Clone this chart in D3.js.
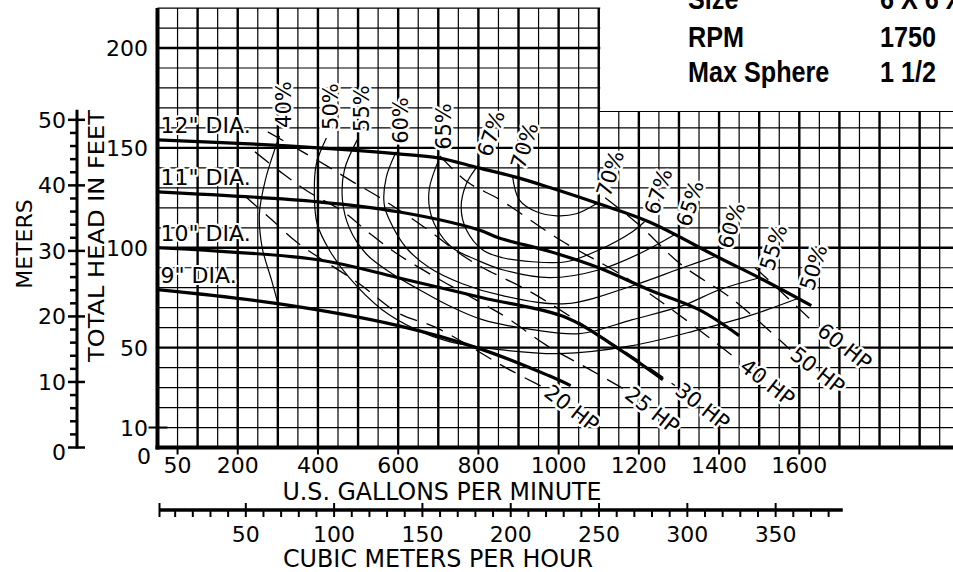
<!DOCTYPE html>
<html>
<head>
<meta charset="utf-8">
<script src="https://cdn.jsdelivr.net/npm/d3@7"></script>
<style>
  body { margin: 0; background: #fff; }
  svg { display: block; }
  text { font-family: "DejaVu Sans", sans-serif; fill: #000; }
  text.info { font-family: "Liberation Sans", Arial, sans-serif; font-weight: bold; font-size: 30px; }
</style>
</head>
<body>
<div id="chart"></div>
<script>
// ---- data (US gpm, feet of head) ----
const gpmTicks = [50, 200, 400, 600, 800, 1000, 1200, 1400, 1600];
const headTicks = [0, 10, 50, 100, 150, 200];
const meterTicks = [0, 10, 20, 30, 40, 50];
const m3Ticks = [50, 100, 150, 200, 250, 300, 350];

const dia12 = [[0,154],[230,152],[400,150],[600,147],[700,145],[800,140],[900,135],[980,130],[1100,122],[1225,113],[1400,95],[1500,85],[1630,71]];
const dia11 = [[0,128],[400,123],[600,118],[800,109],[850,105],[980,98],[1100,90],[1225,79],[1350,69],[1450,56]];
const dia10 = [[0,100],[400,94],[600,85],[810,75],[1020,65],[1145,50],[1260,34]];
const dia9  = [[0,79],[300,72],[600,61],[810,49],[975,36],[1030,31]];
const diaNames = ['12" DIA.', '11" DIA.', '10" DIA.', '9" DIA.'];

const eff40 = [[304,156],[269,134],[254,117],[261,100],[284,84],[299,73]];
const eff50 = [[421,155],[396,142],[391,127],[398,112],[428,99],[478,85],[560,69],[645,59],[727,53],[852,49],[1002,47],[1184,51],[1351,59],[1476,66],[1601,75]];
const eff55 = [[498,154],[466,139],[461,124],[478,110],[520,97],[585,87],[653,79],[727,71],[810,64],[935,59],[1052,57],[1184,64],[1309,71],[1401,79],[1501,85]];
const eff60 = [[595,148],[570,135],[565,122],[578,114],[620,100],[678,90],[760,82],[860,76],[1019,72],[1184,81],[1309,90],[1396,96]];
const eff65 = [[703,145],[678,130],[678,120],[695,110],[735,100],[795,94],[860,89],[977,85],[1102,89],[1201,97],[1293,107]];
const eff67 = [[802,142],[770,132],[757,120],[770,109],[810,99],[860,95],[934,93],[1019,93],[1102,99],[1184,108],[1214,113]];
const eff70 = [[885,136],[902,124],[945,118],[995,116],[1044,117],[1094,122]];
const effNames = ['40%', '50%', '55%', '60%', '65%', '67%', '70%'];

const hp20 = [[217,126],[285,114],[346,103],[411,94],[503,82],[603,67],[695,60],[877,39],[964,30]];
const hp25 = [[243,148],[313,137],[376,128],[463,118],[530,107],[597,97],[704,84],[811,72],[871,65],[971,51],[1078,39],[1165,29]];
const hp30 = [[275,158],[362,148],[422,141],[487,133],[555,125],[667,110],[754,97],[811,90],[911,80],[971,73],[1103,56],[1203,43],[1290,31]];
const hp40 = [[704,146],[772,133],[854,124],[1003,104],[1160,86],[1303,66],[1452,43]];
const hp50 = [[1116,125],[1203,111],[1303,92],[1435,74],[1577,49]];
const hp60 = [[1490,90],[1560,77],[1644,61]];
const hpNames = ['20 HP', '25 HP', '30 HP', '40 HP', '50 HP', '60 HP'];

const infoLabels = ['Size', 'RPM', 'Max Sphere'];
const infoValues = ['6 X 6 X 12', '1750', '1 1/2'];

// ---- layout ----
const W = 953, H = 572;
const svg = d3.select('#chart').append('svg').attr('width', W).attr('height', H);

const x = d3.scaleLinear().domain([0, 1600]).range([157.5, 799.3]);
const y = d3.scaleLinear().domain([0, 200]).range([447.5, 48]);
const xm = d3.scaleLinear().domain([0, 350]).range([x(0), x(350 * 4.4029)]);   // m3/h
const ym = d3.scaleLinear().domain([0, 50]).range([y(0), y(50 * 3.2808)]);     // metres

// grid
const grid = svg.append('g');
grid.selectAll('line.v').data(d3.range(50, 2001, 50)).enter().append('line')
    .attr('x1', d => x(d)).attr('x2', d => x(d))
    .attr('y1', y(0)).attr('y2', y(220))
    .attr('stroke', '#000').attr('stroke-width', d => d % 100 ? 1.2 : 2.4);
grid.selectAll('line.h').data(d3.range(10, 221, 10)).enter().append('line')
    .attr('x1', x(0)).attr('x2', W)
    .attr('y1', d => y(d)).attr('y2', d => y(d))
    .attr('stroke', '#000').attr('stroke-width', d => d % 50 ? 1.2 : 2.4);
// frame
grid.append('line').attr('x1', x(0)).attr('x2', x(0)).attr('y1', y(0) + 2).attr('y2', y(220))
    .attr('stroke', '#000').attr('stroke-width', 4);
grid.append('line').attr('x1', x(0) - 2).attr('x2', W).attr('y1', y(0)).attr('y2', y(0))
    .attr('stroke', '#000').attr('stroke-width', 4);

// white info box top right
svg.append('rect').attr('x', x(1100) + 1.5).attr('y', 0).attr('width', W).attr('height', 111)
    .attr('fill', '#fff');
svg.append('line').attr('x1', x(1100)).attr('x2', W).attr('y1', 111.5).attr('y2', 111.5)
    .attr('stroke', '#000').attr('stroke-width', 1.2);

// bottom ticks + labels (gpm)
svg.selectAll('line.xt').data(gpmTicks).enter().append('line')
    .attr('x1', d => x(d)).attr('x2', d => x(d)).attr('y1', y(0)).attr('y2', y(0) + 7)
    .attr('stroke', '#000').attr('stroke-width', 2);
svg.selectAll('text.xl').data(gpmTicks).enter().append('text')
    .attr('x', d => x(d)).attr('y', 473).attr('text-anchor', 'middle')
    .attr('font-size', 22).text(d => d);
svg.append('text').attr('x', 442).attr('y', 500).attr('text-anchor', 'middle')
    .attr('font-size', 24).attr('textLength', 319).attr('lengthAdjust', 'spacingAndGlyphs')
    .text('U.S. GALLONS PER MINUTE');

// head labels (feet)
svg.append('line').attr('x1', x(0) - 9).attr('x2', x(0) + 10).attr('y1', y(10)).attr('y2', y(10))
    .attr('stroke', '#000').attr('stroke-width', 2);
svg.selectAll('text.yl').data(headTicks).enter().append('text')
    .attr('x', d => d === 0 ? 151 : 148)
    .attr('y', d => d === 0 ? y(0) + 16 : y(d) + 8)
    .attr('text-anchor', 'end').attr('font-size', 22).text(d => d);
svg.append('text').attr('transform', 'translate(104,236) rotate(-90)')
    .attr('text-anchor', 'middle').attr('font-size', 22)
    .attr('textLength', 252).attr('lengthAdjust', 'spacingAndGlyphs')
    .text('TOTAL HEAD IN FEET');

// metres axis
const ma = svg.append('g');
ma.append('line').attr('x1', 77).attr('x2', 77).attr('y1', ym(0) + 1).attr('y2', ym(50) - 10)
    .attr('stroke', '#000').attr('stroke-width', 3);
ma.selectAll('line.mt').data(d3.range(0, 51, 2)).enter().append('line')
    .attr('x1', d => d % 10 ? 70 : 68).attr('x2', d => d % 10 ? 77 : 85)
    .attr('y1', d => ym(d)).attr('y2', d => ym(d))
    .attr('stroke', '#000').attr('stroke-width', 2.5);
ma.selectAll('text').data(meterTicks).enter().append('text')
    .attr('x', 66).attr('y', d => ym(d) + (d === 0 ? 12 : 8))
    .attr('text-anchor', 'end').attr('font-size', 22).text(d => d);
svg.append('text').attr('transform', 'translate(32,244) rotate(-90)')
    .attr('text-anchor', 'middle').attr('font-size', 22).text('METERS');

// cubic metres per hour axis
const ca = svg.append('g');
ca.append('line').attr('x1', xm(0) + 2).attr('x2', xm(388)).attr('y1', 510).attr('y2', 510)
    .attr('stroke', '#000').attr('stroke-width', 3.5);
ca.selectAll('line.ct').data(d3.range(0, 390, 10)).enter().append('line')
    .attr('x1', d => xm(d) + (d === 0 ? 2 : 0)).attr('x2', d => xm(d) + (d === 0 ? 2 : 0))
    .attr('y1', d => d % 50 ? 510 : 503).attr('y2', 517)
    .attr('stroke', '#000').attr('stroke-width', 2);
ca.selectAll('text').data(m3Ticks).enter().append('text')
    .attr('x', d => xm(d)).attr('y', 542).attr('text-anchor', 'middle')
    .attr('font-size', 22).text(d => d);
svg.append('text').attr('x', 438).attr('y', 567).attr('text-anchor', 'middle')
    .attr('font-size', 24).attr('textLength', 310).attr('lengthAdjust', 'spacingAndGlyphs')
    .text('CUBIC METERS PER HOUR');

// curves
const line = d3.line().x(d => x(d[0])).y(d => y(d[1])).curve(d3.curveCatmullRom.alpha(0.5));

const hpCurves = [hp20, hp25, hp30, hp40, hp50, hp60];
svg.append('g').selectAll('path').data(hpCurves).enter().append('path')
    .attr('d', line).attr('fill', 'none').attr('stroke', '#000')
    .attr('stroke-width', 1.3).attr('stroke-dasharray', '18,10');

const effCurves = [eff40, eff50, eff55, eff60, eff65, eff67, eff70];
svg.append('g').selectAll('path').data(effCurves).enter().append('path')
    .attr('d', line).attr('fill', 'none').attr('stroke', '#000').attr('stroke-width', 1.2);

const diaCurves = [dia12, dia11, dia10, dia9];
svg.append('g').selectAll('path').data(diaCurves).enter().append('path')
    .attr('d', line).attr('fill', 'none').attr('stroke', '#000').attr('stroke-width', 3.2);

// labels with white knock-out
function halo(sel, w) {
  return sel.attr('stroke', '#fff').attr('stroke-width', w).attr('paint-order', 'stroke')
      .attr('stroke-linejoin', 'round');
}

halo(svg.append('g').selectAll('text').data(diaCurves).enter().append('text')
    .attr('x', x(0) + 3).attr('y', d => y(d[0][1]) - 7)
    .attr('font-size', 22).text((d, i) => diaNames[i]), 4);

// efficiency labels: left end (top of the bowl) and right end
halo(svg.append('g').selectAll('text').data(effCurves).enter().append('text')
    .attr('transform', (d, i) => {
      const p = d[0];
      return 'translate(' + (x(p[0]) + 5) + ',' + (y(p[1]) - 8) + ') rotate(' + (i > 4 ? -72 : -90) + ')';
    })
    .attr('dominant-baseline', 'central').attr('font-size', 21)
    .text((d, i) => effNames[i]), 5);
halo(svg.append('g').selectAll('text').data(effCurves.slice(1)).enter().append('text')
    .attr('transform', d => {
      const p = d[d.length - 1];
      return 'translate(' + (x(p[0]) + 7) + ',' + (y(p[1]) - 8) + ') rotate(-72)';
    })
    .attr('dominant-baseline', 'central').attr('font-size', 21)
    .text((d, i) => effNames[i + 1]), 5);

halo(svg.append('g').selectAll('text').data(hpCurves).enter().append('text')
    .attr('transform', d => {
      const p = d[d.length - 1];
      return 'translate(' + (x(p[0]) + 3) + ',' + (y(p[1]) + 2) + ') rotate(38)';
    })
    .attr('dominant-baseline', 'central').attr('font-size', 21)
    .text((d, i) => hpNames[i]), 5);

// info block
const info = svg.append('g');
[9, 47, 82].forEach((by, i) => {
  info.append('text').attr('class', 'info')
      .attr('transform', 'translate(688,' + by + ') scale(0.84,1)').text(infoLabels[i]);
  info.append('text').attr('class', 'info')
      .attr('transform', 'translate(880,' + by + ') scale(0.84,1)').text(infoValues[i]);
});
</script>
</body>
</html>
